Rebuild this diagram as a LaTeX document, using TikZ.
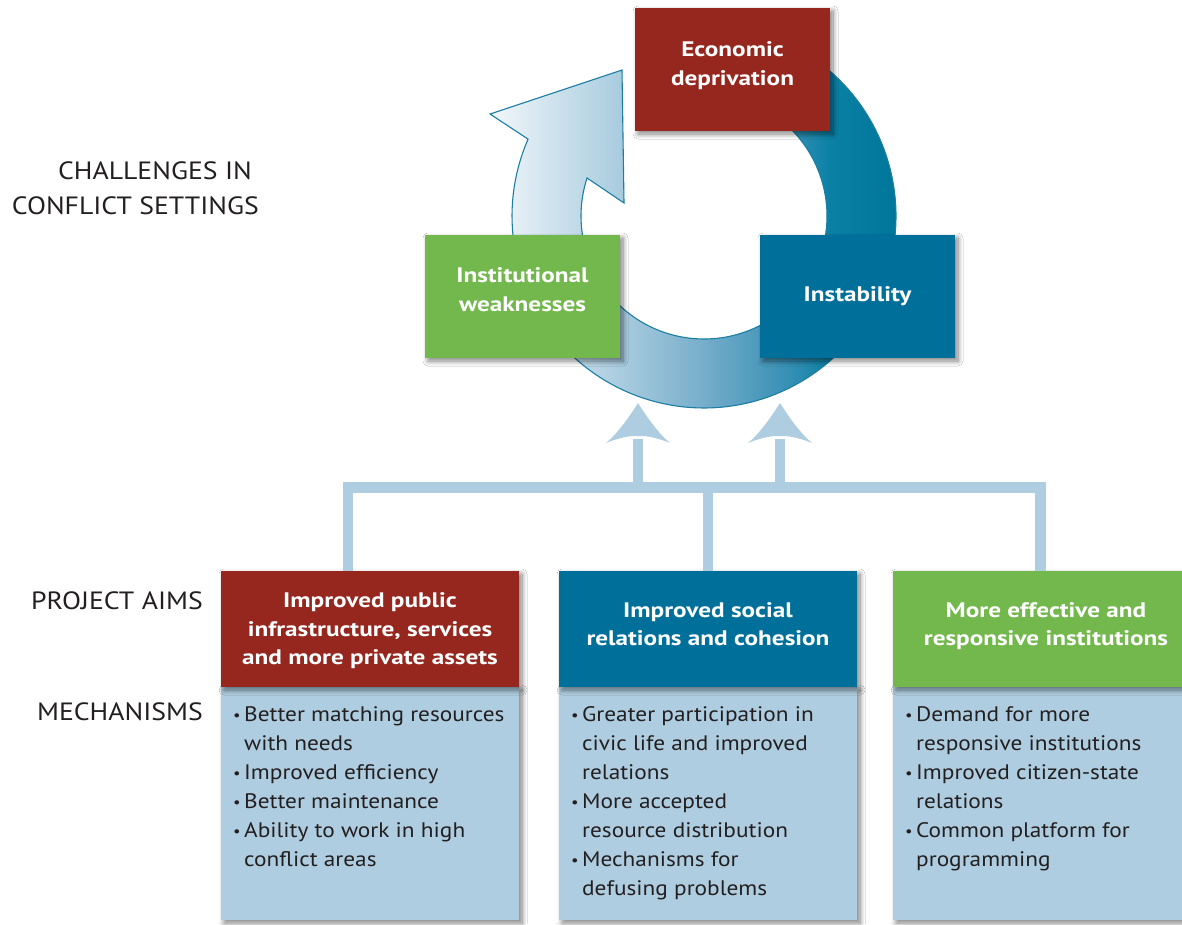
\documentclass[tikz,border=0pt]{standalone}
\usepackage{fontspec}
\setmainfont{PT Sans}
\newfontfamily\bodyfont{PT Sans}[FakeStretch=1.11]
\newfontfamily\headfont{PT Sans}[FakeStretch=1.2]
\usetikzlibrary{shadows.blur}
\definecolor{econred}{HTML}{95271F}
\definecolor{tealbox}{HTML}{00709A}
\definecolor{greenbox}{HTML}{72B84C}
\definecolor{paleblue}{HTML}{AFCDE0}
\definecolor{ringline}{HTML}{1B7EA2}
\definecolor{textdark}{HTML}{231F20}
\definecolor{ringA}{HTML}{F2F7FA}
\definecolor{ringB}{HTML}{A9CCDF}
\definecolor{ringC}{HTML}{78AECB}
\definecolor{ringD}{HTML}{358FB4}
\definecolor{ringE}{HTML}{0A80A5}
\definecolor{ringF}{HTML}{00769B}
\pgfdeclarehorizontalshading{ringshade}{100bp}{color(0bp)=(ringA); color(25bp)=(ringA); color(41bp)=(ringB); color(51bp)=(ringC); color(62bp)=(ringD); color(67bp)=(ringE); color(75bp)=(ringF); color(100bp)=(ringF)}
\newcommand{\bul}{\makebox[11pt][l]{\raisebox{1pt}{\fontsize{15}{15}\selectfont •}}}
\newcommand{\ind}{\hspace*{11pt}}
\newcommand{\mechtext}[2]{\parbox[t][233pt][t]{#1}{\raggedright\bodyfont\fontsize{21}{29}\selectfont\vspace*{19pt}#2}}
\tikzset{
  boxshadow/.style={blur shadow={shadow xshift=3pt, shadow yshift=-3pt, shadow blur radius=5pt, shadow blur steps=10, shadow opacity=50}},
  challenge/.style={boxshadow, minimum width=195pt, minimum height=123pt, inner sep=0pt, text=white, align=center, font=\headfont\fontsize{21}{29}\selectfont\bfseries},
  aimbox/.style={boxshadow, minimum width=298pt, minimum height=116pt, inner sep=0pt, text=white, align=center, font=\headfont\fontsize{21}{28.5}\selectfont\bfseries},
  mechbox/.style={boxshadow, fill=paleblue, anchor=north west, inner xsep=12pt, inner ysep=0pt, text=textdark},
  sidelabel/.style={anchor=base east, inner sep=0pt, text=textdark, font=\bodyfont\fontsize{25}{29}\selectfont},
  bar/.style={draw=paleblue, line width=10.5pt, line join=miter},
  uphead/.pic={\fill[paleblue] (0,0) .. controls (10,16) and (22,32) .. (32,40) .. controls (20,35) and (9,33) .. (4,33) -- (-4,33) .. controls (-9,33) and (-20,35) .. (-32,40) .. controls (-22,32) and (-10,16) .. (0,0) -- cycle;}
}
\begin{document}
\begin{tikzpicture}[x=1pt,y=-1pt]
\useasboundingbox (0,0) rectangle (1182,924);
\clip (0,0) rectangle (1182,924);
\fill[white] (0,0) rectangle (1182,924);

% cycle arrow
\shadedraw[shading=ringshade, draw=ringline, line width=1.1pt, line join=miter]
  plot[domain=-90:203.6, samples=140] ({704+192*cos(\x)},{216+192*sin(\x)})
  -- (490,114) -- (622,70) -- (624,203)
  -- plot[domain=198:-90, samples=140] ({704+123*cos(\x)},{216+123*sin(\x)}) -- cycle;

% side labels
\node[sidelabel] (lblA) at (252,179) {CHALLENGES IN};
\node[sidelabel] (lblB) at (259,214) {CONFLICT SETTINGS};
\node[sidelabel] (lblC) at (203,609) {PROJECT AIMS};
\node[sidelabel] (lblD) at (203,720) {MECHANISMS};

% mechanisms bodies
\node[mechbox] (mech1) at (221,687) {\mechtext{274pt}{\bul Better matching resources\\\ind with needs\\\bul Improved efficiency\\\bul Better maintenance\\\bul Ability to work in high\\\ind conflict areas}};
\node[mechbox] (mech2) at (559,687) {\mechtext{274pt}{\bul Greater participation in\\\ind civic life and improved\\\ind relations\\\bul More accepted\\\ind resource distribution\\\bul Mechanisms for\\\ind defusing problems}};
\node[mechbox] (mech3) at (893,687) {\mechtext{282pt}{\bul Demand for more\\\ind responsive institutions\\\bul Improved citizen-state\\\ind relations\\\bul Common platform for\\\ind programming}};

% project aims headers
\node[aimbox, fill=econred] (aim1) at (370,629) {\rule{0pt}{19pt}Improved public\\infrastructure, services\\and more private assets};
\node[aimbox, fill=tealbox] (aim2) at (708,629) {Improved social\\relations and cohesion\rule[-10pt]{0pt}{10pt}};
\node[aimbox, fill=greenbox, minimum width=306pt] (aim3) at (1046,629) {More effective and\\responsive institutions\rule[-10pt]{0pt}{10pt}};

% connectors
\coordinate (j1) at (348,487.5);
\coordinate (j3) at (1040.5,487.5);
\coordinate (t1) at (638,403);
\coordinate (t2) at (780,403);
\draw[bar] (j1 |- aim1.north) -- (j1) -- (j3) -- (j3 |- aim3.north);
\draw[bar] (aim2.north) -- (aim2.north |- j1);
\draw[bar] (t1 |- j1) -- ([yshift=-36pt]t1);
\draw[bar] (t2 |- j1) -- ([yshift=-36pt]t2);
\pic at (t1) {uphead};
\pic at (t2) {uphead};

% challenges
\node[challenge, fill=econred] (econ) at (732.5,69.5) {Economic\\deprivation\rule[-12pt]{0pt}{12pt}};
\node[challenge, fill=greenbox] (inst) at (522.5,296.5) {Institutional\\weaknesses\rule[-13pt]{0pt}{13pt}};
\node[challenge, fill=tealbox] (instab) at (857.5,296.5) {Instability};
\end{tikzpicture}
\end{document}
